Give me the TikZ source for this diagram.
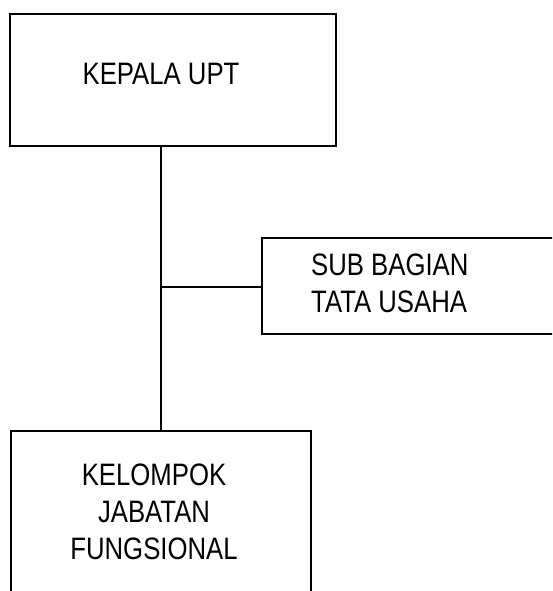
\documentclass[tikz,border=0pt]{standalone}
\usepackage{fontspec}
\setmainfont{Liberation Sans}[FakeStretch=0.83]
\usepackage{tikz}

\tikzset{
	kotak/.style={draw, line width=1.6pt, anchor=north west, inner sep=0pt},
	teks/.style={font=\fontsize{31}{37}\selectfont, inner sep=0pt},
}

\begin{document}
\begin{tikzpicture}[x=1pt, y=-1pt]
	\clip (0,0) rectangle (552,591);
	
	\node[kotak, minimum width=326pt, minimum height=132pt] (kepala) at (9,13) {};
	\node[kotak, minimum width=330pt, minimum height=96pt] (subbag) at (261,237) {};
	\node[kotak, minimum width=300pt, minimum height=200pt] (kelompok) at (10,430) {};
	
	\node[teks] (tkepala) at (161,73.5) {KEPALA UPT};
	\node[teks, align=left, anchor=west] (tsubbag) at (311,283) {SUB BAGIAN\\TATA USAHA};
	\node[teks, align=center] (tkelompok) at (154,511.5) {KELOMPOK\\JABATAN\\FUNGSIONAL};
	
	\coordinate (cabang) at (161,287);
	\draw[line width=1.6pt] (kepala.south -| cabang) -- (kelompok.north -| cabang);
	\draw[line width=1.6pt] (cabang) -- (subbag.west |- cabang);
\end{tikzpicture}
\end{document}
